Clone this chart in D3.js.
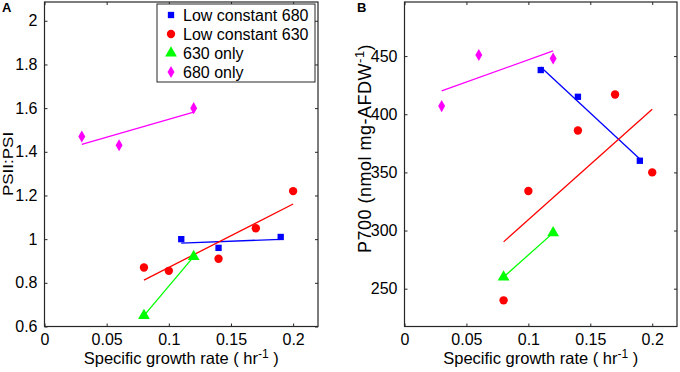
<!DOCTYPE html>
<meta charset="utf-8">
<style>
body { margin: 0; background: #fff; }
svg { font-family: "Liberation Sans", Arial, sans-serif; }
.tick text { font-size: 16px; fill: #000; }
.tick line { stroke: #262626; }
</style>
<body>
<script src="https://cdn.jsdelivr.net/npm/d3@7"></script>
<script>

// series data (x = specific growth rate, A = PSII:PSI, B = P700)
var seriesNames = ["Low constant 680", "Low constant 630", "630 only", "680 only"];
var lc680X = [0.11, 0.14, 0.19];
var lc680A = [1.00, 0.96, 1.01];
var lc680B = [438, 415, 360];
var lc630X = [0.08, 0.10, 0.14, 0.17, 0.20];
var lc630A = [0.87, 0.855, 0.91, 1.05, 1.22];
var lc630B = [240, 334, 386, 417, 350];
var only630X = [0.08, 0.12];
var only630A = [0.65, 0.92];
var only630B = [260, 298];
var only680X = [0.03, 0.06, 0.12];
var only680A = [1.47, 1.43, 1.60];
var only680B = [407, 451, 448];

var xTicks = [0, 0.05, 0.1, 0.15, 0.2];
var xTickLabels = ["0", "0.05", "0.1", "0.15", "0.2"];
var yTicksA = [0.6, 0.8, 1, 1.2, 1.4, 1.6, 1.8, 2];
var yTickLabelsA = ["0.6", "0.8", "1", "1.2", "1.4", "1.6", "1.8", "2"];
var yTicksB = [250, 300, 350, 400, 450];
var yTickLabelsB = ["250", "300", "350", "400", "450"];

var colors = ["#0000ff", "#ff0000", "#00ff00", "#ff00ff"];
var shapes = [d3.symbolSquare, d3.symbolCircle, d3.symbolTriangle, d3.symbolDiamond];
var sizes = [40, 55, 60, 42];

var svg = d3.select("body").append("svg")
    .attr("width", 680)
    .attr("height", 372);

// least squares fit line over x range
function fit(xs, ys) {
  var mx = d3.mean(xs), my = d3.mean(ys);
  var sxx = d3.sum(xs, function(x) { return (x - mx) * (x - mx); });
  var sxy = d3.sum(xs, function(x, i) { return (x - mx) * (ys[i] - my); });
  var b = sxy / sxx, a = my - b * mx;
  var x0 = d3.min(xs), x1 = d3.max(xs);
  return [[x0, a + b * x0], [x1, a + b * x1]];
}

function panel(opt) {
  var x = d3.scaleLinear().domain([0, 0.22]).range([opt.left, opt.right]);
  var y = d3.scaleLinear().domain(opt.yDomain).range([326.5, 2]);
  var g = svg.append("g");

  g.append("g")
      .attr("transform", "translate(0,326.5)")
      .call(d3.axisBottom(x).tickValues(xTicks).tickSize(-3).tickPadding(7)
        .tickFormat(function(d, i) { return xTickLabels[i]; }));
  g.append("g")
      .attr("transform", "translate(0,2)")
      .call(d3.axisTop(x).tickValues(xTicks).tickSize(-3).tickFormat(""));
  g.append("g")
      .attr("transform", "translate(" + opt.left + ",0)")
      .call(d3.axisLeft(y).tickValues(opt.yTicks).tickSize(-3).tickPadding(7)
        .tickFormat(function(d, i) { return opt.yLabels[i]; }));
  g.append("g")
      .attr("transform", "translate(" + opt.right + ",0)")
      .call(d3.axisRight(y).tickValues(opt.yTicks).tickSize(-3).tickFormat(""));
  g.selectAll(".domain").remove();

  g.append("rect")
      .attr("x", opt.left).attr("y", 2)
      .attr("width", opt.right - opt.left).attr("height", 324.5)
      .attr("fill", "none").attr("stroke", "#262626").attr("stroke-width", 1.2);

  var xs = [lc680X, lc630X, only630X, only680X];
  var line = d3.line().x(function(d) { return x(d[0]); }).y(function(d) { return y(d[1]); });

  opt.ys.forEach(function(ys, k) {
    g.append("path")
        .attr("d", line(fit(xs[k], ys)))
        .attr("fill", "none")
        .attr("stroke", colors[k])
        .attr("stroke-width", 1.3);
  });
  opt.ys.forEach(function(ys, k) {
    g.selectAll(null)
        .data(ys)
      .enter().append("path")
        .attr("d", d3.symbol().type(shapes[k]).size(sizes[k]))
        .attr("transform", function(d, i) { return "translate(" + x(xs[k][i]) + "," + y(d) + ")"; })
        .attr("fill", colors[k]);
  });

  var xl = g.append("text")
      .attr("x", (opt.left + opt.right) / 2)
      .attr("y", 364)
      .attr("text-anchor", "middle")
      .style("font-size", "16.5px");
  xl.append("tspan").text("Specific growth rate ( hr");
  xl.append("tspan").attr("dy", -6).style("font-size", "12px").text("-1");
  xl.append("tspan").attr("dy", 6).text(" )");

  svg.append("text")
      .attr("x", opt.panelX).attr("y", 12)
      .style("font-size", "13px").style("font-weight", "bold")
      .text(opt.panelLabel);
  return g;
}

var gA = panel({
  left: 44.5, right: 318,
  yDomain: [0.6, 2.086], yTicks: yTicksA, yLabels: yTickLabelsA,
  ys: [lc680A, lc630A, only630A, only680A],
  panelX: 2, panelLabel: "A"
});

gA.append("text")
    .attr("transform", "translate(12.5,164) scale(0.85,1) rotate(-90)")
    .attr("text-anchor", "middle")
    .style("font-size", "17px")
    .text("PSII:PSI");

var gB = panel({
  left: 404.5, right: 677,
  yDomain: [217.5, 496.5], yTicks: yTicksB, yLabels: yTickLabelsB,
  ys: [lc680B, lc630B, only630B, only680B],
  panelX: 357, panelLabel: "B"
});

var yl = gB.append("text")
    .attr("transform", "translate(371,253) rotate(-90)")
    .style("font-size", "18px")
    .style("letter-spacing", "0.5px");
yl.append("tspan").text("P700 (nmol mg-AFDW");
yl.append("tspan").attr("dy", -7).style("font-size", "13px").text("-1");
yl.append("tspan").attr("dy", 7).text(")");

// legend (panel A)
var leg = svg.append("g");
leg.append("rect")
    .attr("x", 157).attr("y", 4).attr("width", 158).attr("height", 78)
    .attr("fill", "#fff").attr("stroke", "#262626").attr("stroke-width", 1);
seriesNames.forEach(function(name, k) {
  var ry = 15 + k * 19;
  leg.append("path")
      .attr("d", d3.symbol().type(shapes[k]).size(sizes[k]))
      .attr("transform", "translate(171," + ry + ")")
      .attr("fill", colors[k]);
  leg.append("text")
      .attr("x", 183).attr("y", ry + 6)
      .style("font-size", "16px")
      .text(name);
});

</script>
</body>
